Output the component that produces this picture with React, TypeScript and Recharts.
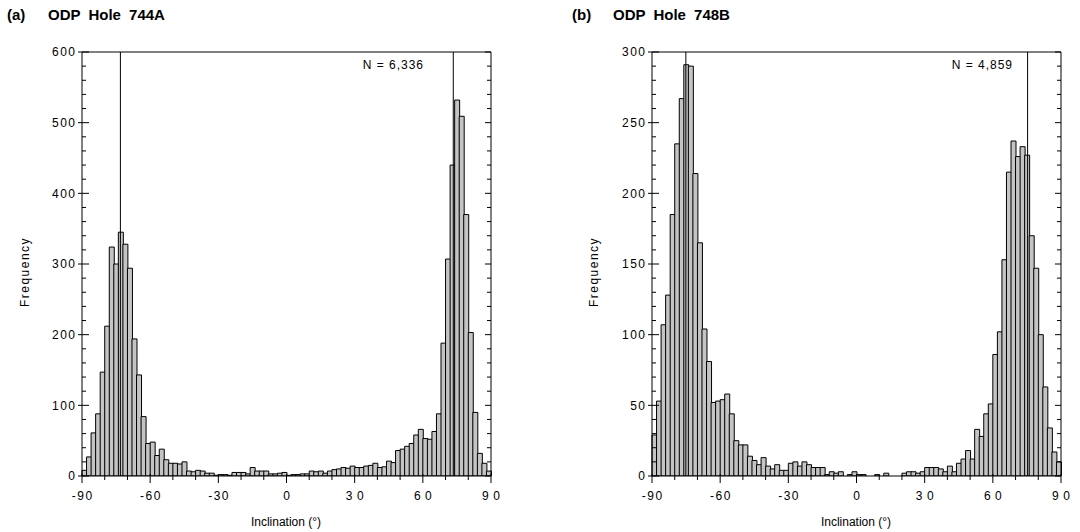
import { BarChart, Bar, XAxis, YAxis, ReferenceLine } from "recharts";

const FONT = '"Liberation Sans", Arial, Helvetica, sans-serif';

// 2-degree inclination bins, -90..90
const BIN_CENTERS = Array.from({ length: 90 }, (_, i) => -89 + 2 * i);

const COUNTS_744A = [
  8, 27, 61, 88, 147, 212, 324, 300, 345, 328,
  294, 194, 143, 84, 46, 48, 29, 38, 23, 18,
  18, 17, 20, 7, 6, 8, 7, 4, 4, 1,
  2, 2, 1, 5, 5, 5, 3, 12, 7, 7,
  7, 3, 3, 4, 5, 1, 2, 2, 3, 3,
  7, 6, 7, 4, 7, 9, 10, 12, 11, 14,
  12, 12, 14, 15, 18, 12, 13, 21, 19, 36,
  38, 42, 46, 58, 66, 53, 52, 63, 88, 188,
  307, 440, 532, 509, 370, 203, 90, 32, 18, 7,
];

const COUNTS_748B = [
  29, 53, 107, 128, 185, 235, 267, 291, 290, 214,
  165, 104, 81, 52, 53, 54, 58, 44, 25, 22,
  22, 14, 11, 8, 13, 7, 5, 8, 4, 4,
  9, 10, 7, 10, 8, 6, 6, 6, 1, 3,
  2, 3, 0, 1, 3, 1, 1, 0, 0, 1,
  0, 2, 0, 0, 0, 2, 3, 3, 2, 3,
  6, 6, 6, 5, 3, 7, 3, 9, 12, 18,
  12, 33, 28, 44, 51, 86, 102, 153, 215, 237,
  226, 233, 227, 170, 147, 100, 63, 34, 17, 10,
];

const X_MAJOR = [-90, -60, -30, 0, 30, 60, 90];
const X_TICKS = [-90, -80, -70, -60, -50, -40, -30, -20, -10, 0, 10, 20, 30, 40, 50, 60, 70, 80, 90];

const Y_744A_MAJOR = [0, 100, 200, 300, 400, 500, 600];
const Y_744A_TICKS = [
  0, 20, 40, 60, 80, 100, 120, 140, 160, 180, 200, 220, 240, 260, 280, 300,
  320, 340, 360, 380, 400, 420, 440, 460, 480, 500, 520, 540, 560, 580, 600,
];
const Y_748B_MAJOR = [0, 50, 100, 150, 200, 250, 300];
const Y_748B_TICKS = [
  0, 10, 20, 30, 40, 50, 60, 70, 80, 90, 100, 110, 120, 130, 140, 150,
  160, 170, 180, 190, 200, 210, 220, 230, 240, 250, 260, 270, 280, 290, 300,
];

// expected dipole inclinations marked by vertical lines
const LINES_744A = [-73.1, 73.4];
const LINES_748B = [-75.1, 75.3];

const PLOT_W = 409;
const PLOT_TOP = 52;
const PLOT_BOTTOM = 476;

const XTick = (props: any) => {
  const { x, payload } = props;
  const v = payload.value;
  const major = X_MAJOR.includes(v);
  const ls = v > 0 ? 4.5 : 1.5;
  const y = PLOT_BOTTOM;
  return (
    <g>
      <line x1={x} x2={x} y1={y - (major ? 2 : 1)} y2={y + (major ? 7 : 4)} stroke="#000" />
      {major && (
        <text x={x + ls / 2} y={y + 20} dy="0.36em" textAnchor="middle" fontSize={12}
          fontFamily={FONT} letterSpacing={ls} fill="#000">
          {v}
        </text>
      )}
    </g>
  );
};

const makeYTick = (majors: number[]) => (props: any) => {
  const { x, y, payload } = props;
  const v = payload.value;
  const major = majors.includes(v);
  const ls = 1.5;
  const rx = x + PLOT_W;
  return (
    <g>
      <line x1={major ? x - 4 : x} x2={x + (major ? 7 : 4)} y1={y} y2={y} stroke="#000" />
      <line x1={rx - (major ? 6 : 4)} x2={rx} y1={y} y2={y} stroke="#000" />
      {major && (
        <text x={x - 7 + ls} y={y} dy="0.36em" textAnchor="end" fontSize={12}
          fontFamily={FONT} letterSpacing={ls} fill="#000">
          {v}
        </text>
      )}
    </g>
  );
};

function Panel({ counts, yMax, yMajor, yTicks, lines, left, marginLeft, marginRight }: any) {
  const data = BIN_CENTERS.map((b, i) => ({ bin: b, count: counts[i] }));
  return (
    <div style={{ position: "absolute", left, top: 0 }}>
      <BarChart width={540} height={532} data={data} barCategoryGap={0} barGap={0}
        margin={{ top: PLOT_TOP, right: marginRight, bottom: 532 - PLOT_BOTTOM - 30, left: marginLeft - 40 }}>
        <XAxis xAxisId="cat" dataKey="bin" hide />
        <XAxis xAxisId="num" type="number" dataKey="bin" domain={[-90, 90]} ticks={X_TICKS}
          interval={0} allowDataOverflow height={30} tickSize={0} tickMargin={0}
          tickLine={false} axisLine={false} tick={XTick} />
        <YAxis yAxisId="main" domain={[0, yMax]} ticks={yTicks} interval={0} allowDataOverflow
          width={40} tickSize={0} tickMargin={0} tickLine={false} stroke="#000"
          tick={makeYTick(yMajor)} />
        {lines.map((v: number) => (
          <ReferenceLine key={v} xAxisId="num" yAxisId="main" x={v} stroke="#000" strokeWidth={1} />
        ))}
        <Bar xAxisId="cat" yAxisId="main" dataKey="count" fill="#c4c4c4" stroke="#000"
          strokeWidth={1} isAnimationActive={false} />
        <ReferenceLine xAxisId="num" yAxisId="main" y={0} stroke="#000" />
        <ReferenceLine xAxisId="num" yAxisId="main" y={yMax} stroke="#000" />
        <ReferenceLine xAxisId="num" yAxisId="main" x={90} stroke="#000" />
      </BarChart>
    </div>
  );
}

export default function App() {
  return (
    <div style={{ position: "absolute", left: 0, top: 0, width: 1080, height: 532, background: "#fff" }}>
      <Panel counts={COUNTS_744A} yMax={600} yMajor={Y_744A_MAJOR} yTicks={Y_744A_TICKS}
        lines={LINES_744A} left={0} marginLeft={82} marginRight={49} />
      <Panel counts={COUNTS_748B} yMax={300} yMajor={Y_748B_MAJOR} yTicks={Y_748B_TICKS}
        lines={LINES_748B} left={540} marginLeft={112} marginRight={19} />
      <svg width={1080} height={532} style={{ position: "absolute", left: 0, top: 0, pointerEvents: "none" }}
        fontFamily={FONT} fill="#000">
        <text x={7} y={20} fontSize={15} fontWeight="bold">(a)</text>
        <text x={48} y={20} fontSize={15} fontWeight="bold" wordSpacing={4}>ODP Hole 744A</text>
        <text x={572} y={20} fontSize={15} fontWeight="bold">(b)</text>
        <text x={613} y={20} fontSize={15} fontWeight="bold" wordSpacing={4}>ODP Hole 748B</text>
        <text x={424} y={69} fontSize={12} textAnchor="end" letterSpacing={1}>N = 6,336</text>
        <text x={1013} y={69} fontSize={12} textAnchor="end" letterSpacing={1}>N = 4,859</text>
        <text x={25} y={272} fontSize={12} textAnchor="middle" dominantBaseline="central"
          letterSpacing={1.5} transform="rotate(-90 25 272)">Frequency</text>
        <text x={594} y={272} fontSize={12} textAnchor="middle" dominantBaseline="central"
          letterSpacing={1.5} transform="rotate(-90 594 272)">Frequency</text>
        <text x={286} y={522} fontSize={12} textAnchor="middle" dominantBaseline="central">Inclination (°)</text>
        <text x={856} y={522} fontSize={12} textAnchor="middle" dominantBaseline="central">Inclination (°)</text>
      </svg>
    </div>
  );
}
